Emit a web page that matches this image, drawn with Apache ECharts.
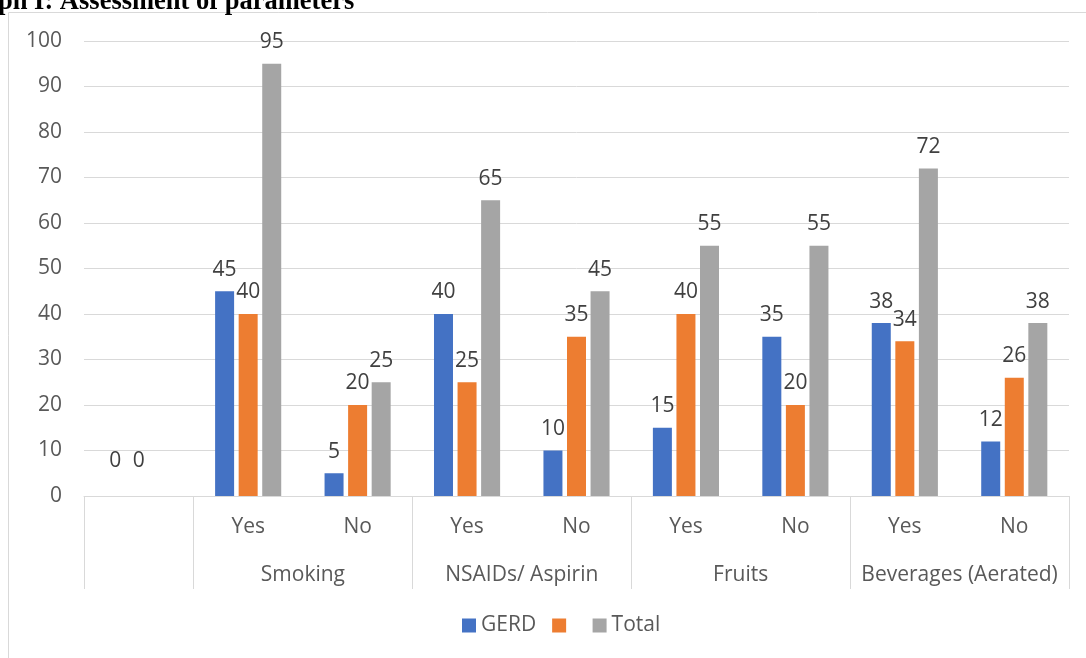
<!DOCTYPE html>
<html>
<head>
<meta charset="utf-8">
<script src="https://cdn.jsdelivr.net/npm/echarts@6/dist/echarts.min.js"></script>
<style>
  html, body { margin: 0; padding: 0; background: #fff; }
  #chart { width: 1086px; height: 658px; }
</style>
</head>
<body>
<div id="chart"></div>
<script>
// 分类（第一层：Yes/No，第二层：分组）
const categories = ['', 'Yes', 'No', 'Yes', 'No', 'Yes', 'No', 'Yes', 'No']
const groups = ['Smoking', 'NSAIDs/ Aspirin', 'Fruits', 'Beverages (Aerated)']
// 分组边界与分组中心（以类目为单位）
const groupEdges = [0, 1, 3, 5, 7, 9]
const groupCenters = [2, 4, 6, 8]
// 数据
const gerd = [0, 45, 5, 40, 10, 15, 35, 38, 12]
const second = [0, 40, 20, 25, 35, 40, 20, 34, 26]
const total = [null, 95, 25, 65, 45, 55, 55, 72, 38]
const yTicks = [0, 10, 20, 30, 40, 50, 60, 70, 80, 90, 100]

const font = '"Open Sans", sans-serif'
const grey = '#595959'

// 数值为0时标签抬高一点（和原图一致）
const toItems = (arr) => arr.map(v => v === 0 ? { value: v, label: { distance: 24 } } : v)

const makeSeries = (name, data, color) => ({
  name,
  type: 'bar',
  data: toItems(data),
  barWidth: 19,
  barGap: '24%',
  itemStyle: { color },
  label: {
    show: true,
    position: 'top',
    distance: 11,
    fontFamily: font,
    fontSize: 21,
    color: '#404040'
  }
})

const chart = echarts.init(document.getElementById('chart'), null, { renderer: 'canvas' })
chart.setOption({
  animation: false,
  grid: { left: 84, right: 17, top: 41, bottom: 162 },
  graphic: [
    {
      type: 'rect',
      shape: { x: 8.5, y: 12.5, width: 1200, height: 800 },
      style: { fill: 'none', stroke: '#D9D9D9', lineWidth: 1 },
      silent: true
    },
    {
      type: 'text',
      left: -2,
      top: -11,
      style: {
        text: 'ph I: Assessment of parameters',
        font: 'bold 26.5px "Liberation Serif", serif',
        fill: '#000'
      }
    }
  ],
  legend: {
    data: ['GERD', ' ', 'Total'],
    top: 615,
    left: 462,
    padding: 0,
    itemWidth: 14,
    itemHeight: 14,
    itemGap: 16,
    icon: 'rect',
    textStyle: { fontFamily: font, fontSize: 21, color: grey }
  },
  xAxis: [
    {
      type: 'category',
      data: categories,
      axisLine: { lineStyle: { color: '#D9D9D9', width: 1 } },
      axisTick: { show: false },
      axisLabel: { fontFamily: font, fontSize: 21, color: grey, margin: 21, interval: 0 }
    },
    {
      type: 'value',
      position: 'bottom',
      min: 0,
      max: 9,
      axisLine: { show: false },
      splitLine: { show: false },
      axisTick: {
        show: true,
        inside: false,
        length: 93,
        customValues: groupEdges,
        lineStyle: { color: '#D9D9D9', width: 1 }
      },
      axisLabel: {
        show: true,
        customValues: groupCenters,
        formatter: (v) => groups[groupCenters.indexOf(v)] || '',
        fontFamily: font,
        fontSize: 21,
        color: grey,
        margin: 69
      }
    }
  ],
  yAxis: {
    type: 'value',
    min: yTicks[0],
    max: yTicks[yTicks.length - 1],
    interval: 10,
    axisLine: { show: false },
    axisTick: { show: false },
    splitLine: { lineStyle: { color: '#D9D9D9', width: 1 } },
    axisLabel: { fontFamily: font, fontSize: 21, color: grey, margin: 22 }
  },
  series: [
    makeSeries('GERD', gerd, '#4472C4'),
    makeSeries(' ', second, '#ED7D31'),
    makeSeries('Total', total, '#A5A5A5')
  ]
})
window.addEventListener('resize', chart.resize)
</script>
</body>
</html>
